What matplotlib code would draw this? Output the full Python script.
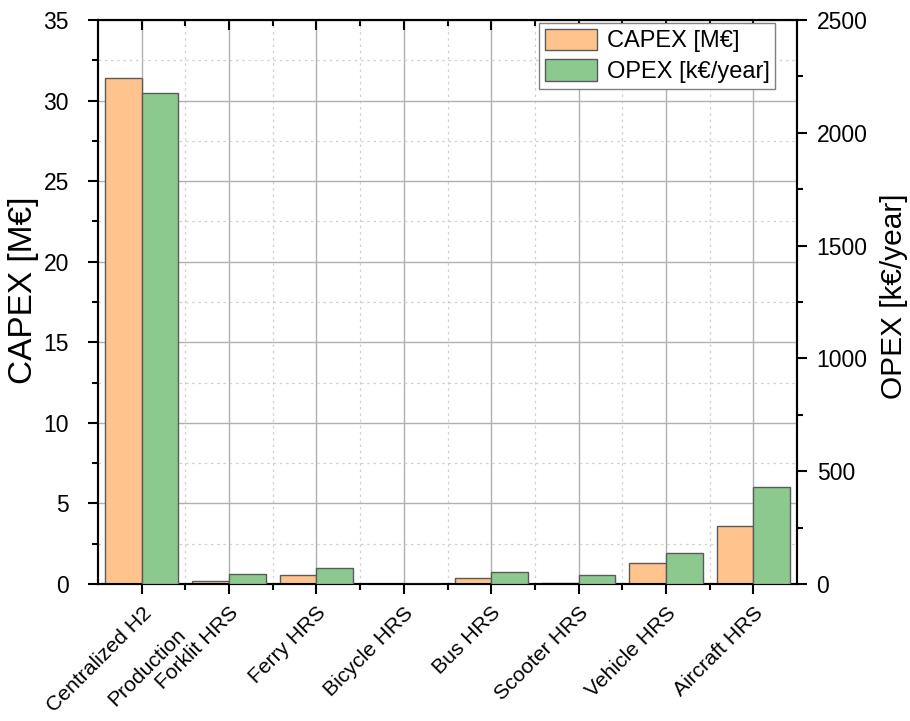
import matplotlib
matplotlib.use("Agg")
import matplotlib.pyplot as plt
import numpy as np
from matplotlib.ticker import MultipleLocator, FixedLocator
from matplotlib.patches import Patch
from matplotlib import lines as mlines
from matplotlib.transforms import ScaledTranslation

plt.rcParams['font.family'] = ['Liberation Sans', 'DejaVu Sans']

categories = ["Centralized H2\nProduction", "Forklit HRS", "Ferry HRS", "Bicycle HRS",
              "Bus HRS", "Scooter HRS", "Vehicle HRS", "Aircraft HRS"]
capex = [31.4, 0.2, 0.58, 0.0, 0.39, 0.05, 1.32, 3.6]      # M€
opex = [2175, 46, 71, 0, 54, 40, 136, 431]                  # k€/year

capex_color = "#ffc48e"
opex_color = "#8cc98e"
edge = "#5a5a5a"

fig = plt.figure(figsize=(9.10, 7.21), dpi=100)
ax = fig.add_axes([0.1077, 0.19, 0.7683, 0.7823])
ax2 = ax.twinx()

x = np.arange(len(categories))
w = 0.42

ax.bar(x - w / 2, capex, width=w, color=capex_color, edgecolor=edge, linewidth=1.0, zorder=3)
ax2.bar(x + w / 2, opex, width=w, color=opex_color, edgecolor=edge, linewidth=1.0, zorder=3)

ax.set_xlim(-0.5, len(categories) - 0.5)
ax.set_ylim(0, 35)
ax2.set_ylim(0, 2500)

# grid: solid on majors, dotted on minors
ax.set_axisbelow(True)
ax.xaxis.set_major_locator(FixedLocator(x))
ax.xaxis.set_minor_locator(FixedLocator(x[:-1] + 0.5))
ax.yaxis.set_major_locator(MultipleLocator(5))
ax.yaxis.set_minor_locator(MultipleLocator(2.5))
ax2.yaxis.set_major_locator(MultipleLocator(500))
ax2.yaxis.set_minor_locator(MultipleLocator(250))
ax.grid(which="major", color="#b0b0b0", linewidth=1.0, linestyle="-")
ax.grid(which="minor", color="#d0d0d0", linewidth=0.9, linestyle=(0, (2, 3)))

# rotated category labels; a two-line name is set one line per text object
tick_len, tick_pad = 7, 7
label_font = 15.2
first_lines = [c.split("\n")[0] for c in categories]
ax.set_xticklabels(first_lines, rotation=45, ha="right", va="top",
                   rotation_mode="anchor", fontsize=label_font)
dx_px = 12
shift = ScaledTranslation(dx_px / 100, 0, fig.dpi_scale_trans)
for lbl in ax.get_xticklabels():
    lbl.set_transform(lbl.get_transform() + shift)

line_step = 31 / np.sqrt(2)  # pixels along x and y for the next line at 45°
for xi, c in zip(x, categories):
    for k, extra in enumerate(c.split("\n")[1:], start=1):
        off = ScaledTranslation((dx_px + k * line_step) / 100,
                                -(tick_len + tick_pad) / 72 - k * line_step / 100,
                                fig.dpi_scale_trans)
        ax.text(xi, 0, extra, transform=ax.get_xaxis_transform() + off,
                rotation=45, ha="right", va="top", rotation_mode="anchor",
                fontsize=label_font, clip_on=False)

ax.tick_params(axis="x", which="major", direction="out", length=tick_len, width=1.5,
               top=True, labeltop=False, pad=tick_pad)
ax.tick_params(axis="x", which="minor", direction="out", length=4, width=1.5, top=True)
ax.tick_params(axis="y", which="major", direction="out", length=7, width=1.5,
               labelsize=16.5, right=False, pad=14)
ax.tick_params(axis="y", which="minor", direction="out", length=4, width=1.5, right=False)
ax2.tick_params(axis="y", which="major", direction="out", length=7, width=1.5,
                labelsize=16.5, pad=7)
ax2.tick_params(axis="y", which="minor", direction="out", length=4, width=1.5)

# top ticks point into the plot
for t in ax.xaxis.get_major_ticks() + ax.xaxis.get_minor_ticks():
    t.tick2line.set_marker(mlines.TICKDOWN)

for a in (ax, ax2):
    for s in a.spines.values():
        s.set_linewidth(1.5)

ax.set_ylabel("CAPEX [M€]", fontsize=24)
ax.yaxis.set_label_coords(-0.085, 0.52)
ax2.set_ylabel("OPEX [k€/year]", fontsize=21.5)
ax2.yaxis.set_label_coords(1.119, 0.51)

handles = [Patch(facecolor=capex_color, edgecolor=edge, linewidth=1.0, label="CAPEX [M€]"),
           Patch(facecolor=opex_color, edgecolor=edge, linewidth=1.0, label="OPEX [k€/year]")]
leg = ax2.legend(handles=handles, loc="upper right", bbox_to_anchor=(0.969, 0.995),
                 fontsize=17, frameon=True, fancybox=False, edgecolor="#808080",
                 framealpha=1, handlelength=2.2, handleheight=1.0, borderpad=0.25,
                 labelspacing=0.3, handletextpad=0.4, borderaxespad=0.0)
leg.get_frame().set_linewidth(1.0)

fig.savefig("out.png", dpi=100)
